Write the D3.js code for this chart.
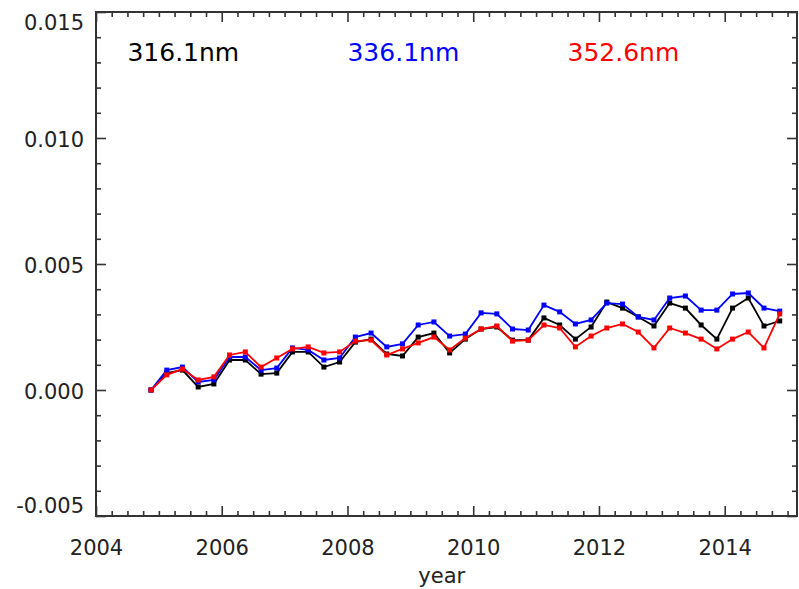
<!DOCTYPE html>
<html>
<head>
<meta charset="utf-8">
<script src="https://cdn.jsdelivr.net/npm/d3@7"></script>
<style>
  html, body { margin: 0; padding: 0; background: #fff; }
  svg { display: block; }
  text { font-family: "DejaVu Sans", sans-serif; }
</style>
</head>
<body>
<svg id="chart" width="799" height="589"></svg>
<script>
// ---- data ----
const startYear = 2004.875;   // first seasonal sample
const stepYear = 0.25;        // quarterly samples
const series316 = [0, 0.00067, 0.00079, 0.00012, 0.00024, 0.00119, 0.00119, 0.00063, 0.00067, 0.00151,
  0.00151, 0.00091, 0.00111, 0.00190, 0.00202, 0.00143, 0.00135, 0.00210, 0.00226, 0.00147,
  0.00202, 0.00242, 0.00250, 0.00198, 0.00198, 0.00286, 0.00258, 0.00202, 0.00250, 0.00349,
  0.00325, 0.00290, 0.00254, 0.00345, 0.00325, 0.00258, 0.00202, 0.00325, 0.00365, 0.00254, 0.00274];
const series336 = [0, 0.00079, 0.00091, 0.00032, 0.00040, 0.00131, 0.00131, 0.00079, 0.00087, 0.00167,
  0.00159, 0.00119, 0.00127, 0.00210, 0.00226, 0.00171, 0.00183, 0.00258, 0.00270, 0.00214,
  0.00222, 0.00306, 0.00302, 0.00242, 0.00238, 0.00337, 0.00310, 0.00262, 0.00278, 0.00345,
  0.00341, 0.00290, 0.00278, 0.00365, 0.00373, 0.00317, 0.00317, 0.00381, 0.00385, 0.00325, 0.00313];
const series352 = [0, 0.00060, 0.00083, 0.00040, 0.00052, 0.00139, 0.00151, 0.00091, 0.00127, 0.00163,
  0.00171, 0.00147, 0.00151, 0.00194, 0.00198, 0.00139, 0.00163, 0.00187, 0.00210, 0.00159,
  0.00206, 0.00242, 0.00254, 0.00194, 0.00198, 0.00258, 0.00246, 0.00171, 0.00214, 0.00246,
  0.00262, 0.00230, 0.00167, 0.00246, 0.00226, 0.00202, 0.00163, 0.00202, 0.00230, 0.00167, 0.00302];
const seriesNames = ["316.1nm", "336.1nm", "352.6nm"];
const seriesColors = ["#000000", "#0000ff", "#ff0000"];
const xTickValues = [2004, 2006, 2008, 2010, 2012, 2014];
const xTickLabels = ["2004", "2006", "2008", "2010", "2012", "2014"];
const yTickValues = [-0.005, 0.000, 0.005, 0.010, 0.015];
const yTickLabels = ["-0.005", "0.000", "0.005", "0.010", "0.015"];
const xLabel = "year";

// ---- layout ----
const L = 96, R = 797, T = 12, B = 516;
const svg = d3.select("#chart");
const x = d3.scaleLinear().domain([2004, 2015.15]).range([L, R]);
const y = d3.scaleLinear().domain([-0.005, 0.015]).range([B, T]);
const axisColor = "#333";

const xMinor = d3.range(2004, 2015.15, 0.25).filter(v => !xTickValues.some(t => Math.abs(t - v) < 1e-6));
const yMinor = d3.range(-0.005, 0.0151, 0.001).filter(v => !yTickValues.some(t => Math.abs(t - v) < 1e-7));

function styleAxis(g) {
  g.select(".domain").remove();
  g.selectAll("line").attr("stroke", axisColor).attr("stroke-width", 1.6);
  g.selectAll("text").attr("fill", "#222").style("font-size", "21px")
    .style("font-family", "'DejaVu Sans', sans-serif");
}

// bottom
svg.append("g").attr("transform", `translate(0,${B})`)
  .call(d3.axisBottom(x).tickValues(xTickValues).tickSize(-10).tickPadding(24)
    .tickFormat((d, i) => xTickLabels[i])).call(styleAxis);
svg.append("g").attr("transform", `translate(0,${B})`)
  .call(d3.axisBottom(x).tickValues(xMinor).tickSize(-5).tickFormat("")).call(styleAxis);
// top
svg.append("g").attr("transform", `translate(0,${T})`)
  .call(d3.axisTop(x).tickValues(xTickValues).tickSize(-10).tickFormat("")).call(styleAxis);
svg.append("g").attr("transform", `translate(0,${T})`)
  .call(d3.axisTop(x).tickValues(xMinor).tickSize(-5).tickFormat("")).call(styleAxis);
// left
const gl = svg.append("g").attr("transform", `translate(${L},0)`)
  .call(d3.axisLeft(y).tickValues(yTickValues).tickSize(-10).tickPadding(12)
    .tickFormat((d, i) => yTickLabels[i])).call(styleAxis);
gl.selectAll(".tick text").attr("dy", d => d === 0.015 ? "0.85em" : (d === -0.005 ? "-0.15em" : "0.4em"));
svg.append("g").attr("transform", `translate(${L},0)`)
  .call(d3.axisLeft(y).tickValues(yMinor).tickSize(-5).tickFormat("")).call(styleAxis);
// right
svg.append("g").attr("transform", `translate(${R},0)`)
  .call(d3.axisRight(y).tickValues(yTickValues).tickSize(-10).tickFormat("")).call(styleAxis);
svg.append("g").attr("transform", `translate(${R},0)`)
  .call(d3.axisRight(y).tickValues(yMinor).tickSize(-5).tickFormat("")).call(styleAxis);

// frame
svg.append("rect").attr("x", L).attr("y", T).attr("width", R - L).attr("height", B - T)
  .attr("fill", "none").attr("stroke", axisColor).attr("stroke-width", 2);

// x label
svg.append("text").attr("x", x(2009.5)).attr("y", 583).attr("text-anchor", "middle")
  .attr("fill", "#222").style("font-size", "21px").text(xLabel);

// series
const allSeries = [series316, series336, series352];
const line = d3.line().x((d, i) => x(startYear + i * stepYear)).y(d => y(d));
allSeries.forEach((s, k) => {
  const g = svg.append("g");
  g.append("path").datum(s).attr("d", line).attr("fill", "none")
    .attr("stroke", seriesColors[k]).attr("stroke-width", 1.8);
  g.selectAll("rect").data(s).join("rect")
    .attr("x", (d, i) => x(startYear + i * stepYear) - 2.5)
    .attr("y", d => y(d) - 2.5)
    .attr("width", 5).attr("height", 5).attr("fill", seriesColors[k]);
});

// legend labels
const legendX = [2004.5, 2008.0, 2011.5];
seriesNames.forEach((n, k) => {
  svg.append("text").attr("x", x(legendX[k])).attr("y", 61)
    .attr("fill", seriesColors[k]).style("font-size", "25px").text(n);
});
</script>
</body>
</html>
